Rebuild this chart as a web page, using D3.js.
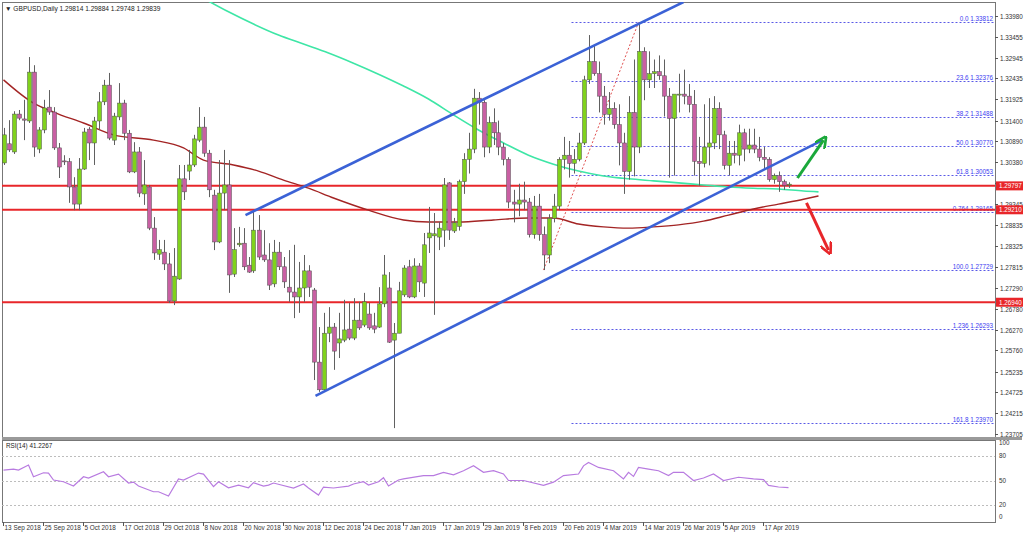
<!DOCTYPE html>
<html><head><meta charset="utf-8">
<script src="https://cdn.jsdelivr.net/npm/d3@7"></script>
<style>body{margin:0;background:#fff;overflow:hidden}svg{display:block;font-family:"Liberation Sans",Arial,sans-serif}</style>
</head><body><svg id="c" width="1024" height="534"></svg>
<script>
// ---------- DATA ----------
const opens=[1.3036,1.3083,1.3063,1.3156,1.3144,1.3139,1.3259,1.3070,1.3117,1.3173,1.3161,1.3073,1.3041,1.3039,1.2977,1.2935,1.3021,1.3119,1.3085,1.3139,1.3186,1.3227,1.3092,1.3149,1.3183,1.3109,1.3014,1.3063,1.2960,1.2977,1.2876,1.2812,1.2817,1.2788,1.2697,1.2751,1.2997,1.3016,1.3031,1.3092,1.3124,1.3060,1.2957,1.2842,1.2962,1.2982,1.2763,1.2835,1.2839,1.2785,1.2771,1.2871,1.2810,1.2798,1.2739,1.2817,1.2781,1.2731,1.2719,1.2707,1.2729,1.2771,1.2724,1.2547,1.2479,1.2618,1.2633,1.2594,1.2601,1.2628,1.2606,1.2650,1.2638,1.2665,1.2636,1.2633,1.2690,1.2729,1.2601,1.2618,1.2712,1.2781,1.2707,1.2783,1.2741,1.2852,1.2857,1.2854,1.2871,1.2987,1.2869,
1.2880,1.2990,1.3045,1.3070,1.3195,1.3185,1.3075,1.3135,1.3110,1.3075,1.3045,1.2940,1.2935,1.2945,1.2940,1.2860,1.2930,1.2860,1.2810,1.2900,1.2930,1.3045,1.3055,1.3035,1.3045,1.3085,1.3240,1.3285,1.3255,1.3200,1.3155,1.3170,1.3130,1.3085,1.3015,1.3160,1.3075,1.3310,1.3240,1.3255,1.3260,1.3250,1.3200,1.3145,1.3205,1.3205,1.3200,1.3180,1.3040,1.3035,1.3075,1.3085,1.3170,1.3105,1.3030,1.3060,1.3055,1.3110,1.3070,1.3080,1.3070,1.3050,1.3045,1.2995,1.3005,1.2990,1.29814];
const highs=[1.3122,1.3141,1.3163,1.3166,1.3191,1.3296,1.3276,1.3124,1.3191,1.3215,1.3173,1.3085,1.3055,1.3048,1.3001,1.3048,1.3122,1.3124,1.3149,1.3210,1.3240,1.3257,1.3159,1.3232,1.3191,1.3117,1.3087,1.3075,1.3043,1.2982,1.2903,1.2847,1.2847,1.2815,1.2827,1.3031,1.3031,1.3068,1.3105,1.3173,1.3149,1.3068,1.2970,1.3043,1.3068,1.3043,1.2876,1.2879,1.2876,1.2805,1.2920,1.2908,1.2871,1.2839,1.2847,1.2842,1.2805,1.2822,1.2835,1.2793,1.2810,1.2785,1.2729,1.2633,1.2668,1.2682,1.2643,1.2668,1.2700,1.2692,1.2704,1.2695,1.2717,1.2692,1.2668,1.2731,1.2810,1.2768,1.2643,1.2744,1.2785,1.2798,1.2802,1.2790,1.2864,1.2928,1.2913,1.2891,1.2999,1.2989,1.2901,
1.2995,1.3060,1.3110,1.3218,1.3210,1.3190,1.3150,1.3170,1.3140,1.3085,1.3050,1.2970,1.2985,1.2990,1.2950,1.2955,1.2960,1.2880,1.2910,1.2960,1.3050,1.3100,1.3090,1.3070,1.3110,1.3250,1.3350,1.3325,1.3285,1.3225,1.3210,1.3185,1.3180,1.3110,1.3200,1.3290,1.3381,1.3320,1.3310,1.3290,1.3300,1.3290,1.3220,1.3195,1.3255,1.3265,1.3230,1.3215,1.3100,1.3180,1.3195,1.3200,1.3185,1.3115,1.3090,1.3090,1.3130,1.3120,1.3120,1.3120,1.3100,1.3075,1.3050,1.3010,1.3015,1.2995,1.29884];
const lows=[1.3031,1.3063,1.3058,1.3141,1.3092,1.3134,1.3051,1.3060,1.3109,1.3154,1.3068,1.2999,1.3031,1.2938,1.2920,1.2920,1.3019,1.3043,1.3031,1.3117,1.3178,1.3092,1.3080,1.3141,1.3092,1.3011,1.3011,1.2952,1.2933,1.2871,1.2798,1.2798,1.2773,1.2692,1.2687,1.2749,1.2945,1.2994,1.3026,1.3087,1.3051,1.2952,1.2822,1.2839,1.2920,1.2717,1.2756,1.2830,1.2773,1.2766,1.2766,1.2798,1.2793,1.2724,1.2731,1.2773,1.2729,1.2695,1.2655,1.2668,1.2695,1.2707,1.2503,1.2474,1.2474,1.2596,1.2528,1.2557,1.2596,1.2601,1.2601,1.2626,1.2633,1.2626,1.2618,1.2631,1.2682,1.2594,1.2385,1.2618,1.2707,1.2704,1.2704,1.2719,1.2707,1.2815,1.2663,1.2822,1.2830,1.2847,1.2864,
1.2870,1.2960,1.3010,1.3060,1.3130,1.3050,1.3060,1.3080,1.3055,1.3030,1.2925,1.2890,1.2905,1.2920,1.2853,1.2850,1.2845,1.2773,1.2790,1.2890,1.2920,1.3020,1.3000,1.3010,1.3040,1.3080,1.3230,1.3250,1.3160,1.3130,1.3140,1.3120,1.3030,1.2960,1.2995,1.3003,1.3060,1.3190,1.3220,1.3220,1.3240,1.3150,1.3000,1.3005,1.3160,1.3180,1.3160,1.3005,1.2980,1.3025,1.3030,1.3070,1.3070,1.3020,1.3005,1.3035,1.3030,1.3040,1.3060,1.3060,1.3040,1.3020,1.2990,1.2985,1.2965,1.2970,1.29748];
const closes=[1.3105,1.3068,1.3156,1.3146,1.3141,1.3259,1.3075,1.3117,1.3171,1.3161,1.3073,1.3026,1.3039,1.2977,1.2935,1.3021,1.3112,1.3085,1.3139,1.3186,1.3227,1.3097,1.3151,1.3183,1.3109,1.3014,1.3063,1.2962,1.2982,1.2876,1.2815,1.2823,1.2788,1.2697,1.2758,1.2997,1.2965,1.3031,1.3095,1.3124,1.3060,1.2970,1.2842,1.2962,1.2982,1.2761,1.2823,1.2839,1.2781,1.2768,1.2871,1.2805,1.2798,1.2736,1.2817,1.2781,1.2744,1.2719,1.2707,1.2729,1.2771,1.2731,1.2547,1.2479,1.2618,1.2633,1.2574,1.2604,1.2626,1.2606,1.2650,1.2631,1.2695,1.2631,1.2628,1.2690,1.2761,1.2596,1.2618,1.2722,1.2778,1.2707,1.2783,1.2744,1.2835,1.2864,1.2862,1.2876,1.2982,1.2871,1.2889,
1.2990,1.3045,1.3070,1.3195,1.3185,1.3075,1.3135,1.3110,1.3075,1.3045,1.2940,1.2935,1.2945,1.2940,1.2860,1.2930,1.2860,1.2810,1.2900,1.2930,1.3045,1.3055,1.3035,1.3045,1.3085,1.3240,1.3285,1.3255,1.3200,1.3155,1.3170,1.3130,1.3085,1.3015,1.3160,1.3075,1.3310,1.3240,1.3255,1.3260,1.3250,1.3200,1.3145,1.3205,1.3205,1.3200,1.3180,1.3040,1.3035,1.3075,1.3085,1.3170,1.3105,1.3030,1.3060,1.3055,1.3110,1.3070,1.3080,1.3070,1.3050,1.3045,1.2995,1.3005,1.2990,1.2981,1.29839];

const dateLabels=["13 Sep 2018","25 Sep 2018","5 Oct 2018","17 Oct 2018","29 Oct 2018","8 Nov 2018","20 Nov 2018","30 Nov 2018","12 Dec 2018","24 Dec 2018","7 Jan 2019","17 Jan 2019","29 Jan 2019","8 Feb 2019","20 Feb 2019","4 Mar 2019","14 Mar 2019","26 Mar 2019","5 Apr 2019","17 Apr 2019"];
const dateLabelBars=[0,8,16,24,32,40,48,56,64,72,80,88,96,104,112,120,128,136,144,152];
const priceTicks=[1.33980,1.33455,1.32945,1.32435,1.31925,1.31400,1.30890,1.30380,1.29865,1.29345,1.28835,1.28325,1.27815,1.27290,1.26780,1.26270,1.25760,1.25235,1.24725,1.24215,1.23705];
const fibNames=["0.0","23.6","38.2","50.0","61.8","0.764","100.0","1.236","161.8"];
const fibPrices=[1.33812,1.32376,1.31488,1.30770,1.30053,1.29165,1.27729,1.26293,1.23970];
const levelPrices=[1.29797,1.29210,1.26940];
const maRedBars=[0,6,10,16,22,30,36,40,46,51,56,61,66,73,80,85,91,98,105,110,115,120,125,130,135,140,145,150,155,160,163];
const maRedVals=[1.3240,1.3183,1.3161,1.3134,1.3105,1.3092,1.3073,1.3043,1.3031,1.3016,1.2994,1.2974,1.2950,1.2920,1.2896,1.2891,1.2891,1.2896,1.2901,1.2901,1.2886,1.2879,1.2876,1.2879,1.2884,1.2893,1.2908,1.2923,1.2935,1.2947,1.2955];
const maGreenBars=[40,45,50,55,60,65,70,75,80,85,90,95,100,105,110,115,120,125,130,135,140,145,150,155,160,163];
const maGreenVals=[1.3440,1.3407,1.3377,1.3350,1.3328,1.3306,1.3281,1.3254,1.3225,1.3193,1.3154,1.3117,1.3085,1.3055,1.3033,1.3016,1.3004,1.2997,1.2992,1.2987,1.2982,1.2977,1.2974,1.2972,1.2967,1.2965];
const rsiBars=[0,2,3,5,6,8,9,10,12,14,16,17,20,21,23,25,26,27,30,31,33,35,36,39,40,42,43,45,47,49,50,52,53,54,58,60,61,63,64,66,69,70,72,73,75,76,77,79,80,84,86,88,90,92,94,96,98,100,101,104,108,110,112,115,116,117,119,122,124,125,126,127,129,131,133,134,136,138,140,142,144,147,150,152,153,155,157];
const rsiVals=[62.8,64,62.8,69,54.6,59.5,59,50.6,48.5,43.2,54.6,53,60.7,54.6,57.9,46.9,48.1,43.2,36.2,36.2,31,51.8,50.6,59.1,57.9,42.4,48.5,41.1,44.4,41.1,47.3,43.2,44.4,46.9,40.8,45.7,40.8,32.2,42,40.8,43.2,45.7,48.5,44.4,48.5,53.4,43.2,50.6,52,56,56,60,57,62,68,60,62,58,50,50,44,48,56,58,68,72,66,62,52,60,55,66,64,62,56,60,60,50,53,58,50,54,52,51,44,42,41.2267];
const upperChannel=[[48.4,1.2908],[136,1.3431]];
const lowerChannel=[[62.4,1.2464],[163.8,1.3092]];
const fibSwing=[[108,1.2773],[127,1.3381]];
const arrowUp=[[158.8,1.2999],[164,1.3092]];
const arrowDown=[[160.6,1.2938],[165,1.2822]];
const title="GBPUSD,Daily  1.29814 1.29884 1.29748 1.29839";

// ---------- LAYOUT ----------
const svg=d3.select("#c");
const L=2,R=995,T=2,MB=437,RT=440,RB=522;
const x=d3.scaleLinear().domain([0,157]).range([3.5,788.5]);
const y=d3.scaleLinear().domain([1.33980,1.23705]).range([15.5,434]);
const yr=d3.scaleLinear().domain([0,100]).range([521.3,439.7]);
const bull="#80d21c",bear="#c95fa3",edge="#505050";

svg.append("defs").html(`
<clipPath id="cm"><rect x="${L}" y="${T}" width="${R-L}" height="${MB-T}"/></clipPath>
<clipPath id="cr"><rect x="${L}" y="${RT}" width="${R-L}" height="${RB-RT}"/></clipPath>
<marker id="ag" viewBox="0 0 10 10" refX="6" refY="5" markerWidth="4" markerHeight="4" orient="auto"><path d="M0,0 L10,5 L0,10" fill="none" stroke="#1aa83a" stroke-width="2.2"/></marker>
<marker id="ar" viewBox="0 0 10 10" refX="6" refY="5" markerWidth="4" markerHeight="4" orient="auto"><path d="M0,0 L10,5 L0,10" fill="none" stroke="#e8262a" stroke-width="2.2"/></marker>`);

// frames
svg.append("rect").attr("x",L+0.5).attr("y",T+0.5).attr("width",R-L).attr("height",MB-T).attr("fill","none").attr("stroke","#777");
svg.append("rect").attr("x",L).attr("y",MB).attr("width",1022-L).attr("height",RT-MB).attr("fill","#9a9a9a");
svg.append("rect").attr("x",L+0.5).attr("y",RT+0.5).attr("width",R-L).attr("height",RB-RT).attr("fill","none").attr("stroke","#777");

const gm=svg.append("g").attr("clip-path","url(#cm)");
const data=opens.map((o,i)=>({i,o,h:highs[i],l:lows[i],c:closes[i]}));

// fib dotted lines
fibPrices.forEach((p,k)=>{
  gm.append("line").attr("x1",x(113.6)).attr("x2",R).attr("y1",Math.round(y(p))+0.5).attr("y2",Math.round(y(p))+0.5)
    .attr("stroke","#5a5ae6").attr("stroke-width",1).attr("stroke-dasharray","2,2");
  gm.append("text").attr("x",R-2).attr("y",Math.round(y(p))-1).attr("text-anchor","end").attr("font-size",6.3).attr("fill","#3c3cf0").text(fibNames[k]+" "+p.toFixed(5));
});
// horizontal red levels
levelPrices.forEach(p=>{
  gm.append("line").attr("x1",L).attr("x2",R).attr("y1",y(p)).attr("y2",y(p)).attr("stroke","#e8262a").attr("stroke-width",2);
});
// fib swing dotted
gm.append("line").attr("x1",x(fibSwing[0][0])).attr("y1",y(fibSwing[0][1])).attr("x2",x(fibSwing[1][0])).attr("y2",y(fibSwing[1][1]))
  .attr("stroke","#e05050").attr("stroke-width",1).attr("stroke-dasharray","2,2");
// moving averages
const line=d3.line().x(d=>x(d[0])).y(d=>y(d[1])).curve(d3.curveMonotoneX);
gm.append("path").attr("d",line(maGreenBars.map((b,k)=>[b,maGreenVals[k]]))).attr("fill","none").attr("stroke","#3ee6a6").attr("stroke-width",1.6);
gm.append("path").attr("d",line(maRedBars.map((b,k)=>[b,maRedVals[k]]))).attr("fill","none").attr("stroke","#a32424").attr("stroke-width",1.4);

// candles
const cg=gm.append("g");
data.forEach(d=>{
  const cx=Math.round(x(d.i))+0.5;
  cg.append("line").attr("x1",cx).attr("x2",cx).attr("y1",y(d.h)).attr("y2",y(d.l)).attr("stroke","#606060").attr("stroke-width",1);
  const top=y(Math.max(d.o,d.c)),bot=y(Math.min(d.o,d.c));
  cg.append("rect").attr("x",cx-2).attr("y",top).attr("width",4).attr("height",Math.max(1,bot-top))
    .attr("fill",d.c>=d.o?bull:bear).attr("stroke",edge).attr("stroke-width",0.5);
});

// channels
[upperChannel,lowerChannel].forEach(c=>{
  gm.append("line").attr("x1",x(c[0][0])).attr("y1",y(c[0][1])).attr("x2",x(c[1][0])).attr("y2",y(c[1][1])).attr("stroke","#3b62d6").attr("stroke-width",2.6);
});
// arrows
gm.append("line").attr("x1",x(arrowUp[0][0])).attr("y1",y(arrowUp[0][1])).attr("x2",x(arrowUp[1][0])).attr("y2",y(arrowUp[1][1])).attr("stroke","#1aa83a").attr("stroke-width",3).attr("marker-end","url(#ag)");
gm.append("line").attr("x1",x(arrowDown[0][0])).attr("y1",y(arrowDown[0][1])).attr("x2",x(arrowDown[1][0])).attr("y2",y(arrowDown[1][1])).attr("stroke","#e8262a").attr("stroke-width",3).attr("marker-end","url(#ar)");

// title
svg.append("text").attr("x",5).attr("y",10.5).attr("font-size",6.6).attr("fill","#222").text("▼ "+title);

// price axis (tick labels hidden where a level label box covers them, as in the terminal)
const ax=svg.append("g");
priceTicks.forEach(p=>{
  const yy=Math.round(y(p))+0.5;
  ax.append("line").attr("x1",R).attr("x2",R+3).attr("y1",yy).attr("y2",yy).attr("stroke","#555");
  const covered=levelPrices.some(q=>Math.abs(y(q)-y(p))<5);
  if(!covered) ax.append("text").attr("x",R+5).attr("y",yy+2.3).attr("font-size",6.3).attr("fill","#333").text(p.toFixed(5));
});
levelPrices.forEach(p=>{
  const yy=y(p);
  ax.append("rect").attr("x",R+1).attr("y",yy-4.5).attr("width",27).attr("height",9).attr("fill","#e8262a");
  ax.append("text").attr("x",R+4).attr("y",yy+2.3).attr("font-size",6.3).attr("fill","#fff").text(p.toFixed(5));
});

// RSI panel
const gr=svg.append("g").attr("clip-path","url(#cr)");
[80,50,20].forEach(v=>{
  gr.append("line").attr("x1",L).attr("x2",R).attr("y1",Math.round(yr(v))+0.5).attr("y2",Math.round(yr(v))+0.5).attr("stroke","#bdbdbd").attr("stroke-dasharray","2,2");
});
gr.append("path").attr("d",d3.line().x(d=>x(d[0])).y(d=>yr(d[1]))(rsiBars.map((b,k)=>[b,rsiVals[k]]))).attr("fill","none").attr("stroke","#b87be0").attr("stroke-width",1.2);
svg.append("text").attr("x",6).attr("y",448).attr("font-size",6.3).attr("fill","#222").text("RSI(14) 41.2267");
[[100,444.5],[80,yr(80)+2.3],[50,yr(50)+2.3],[20,yr(20)+2.3],[0,518.5]].forEach(([v,yy])=>{
  svg.append("text").attr("x",R+4).attr("y",yy).attr("font-size",6.3).attr("fill","#333").text(v);
});

// date axis
dateLabelBars.forEach((b,k)=>{
  const xx=Math.round(x(b))-0.5;
  svg.append("line").attr("x1",xx).attr("x2",xx).attr("y1",RB).attr("y2",RB+4).attr("stroke","#555");
  svg.append("text").attr("x",xx+1).attr("y",529.5).attr("font-size",6.4).attr("fill","#333").text(dateLabels[k]);
});
</script></body></html>
